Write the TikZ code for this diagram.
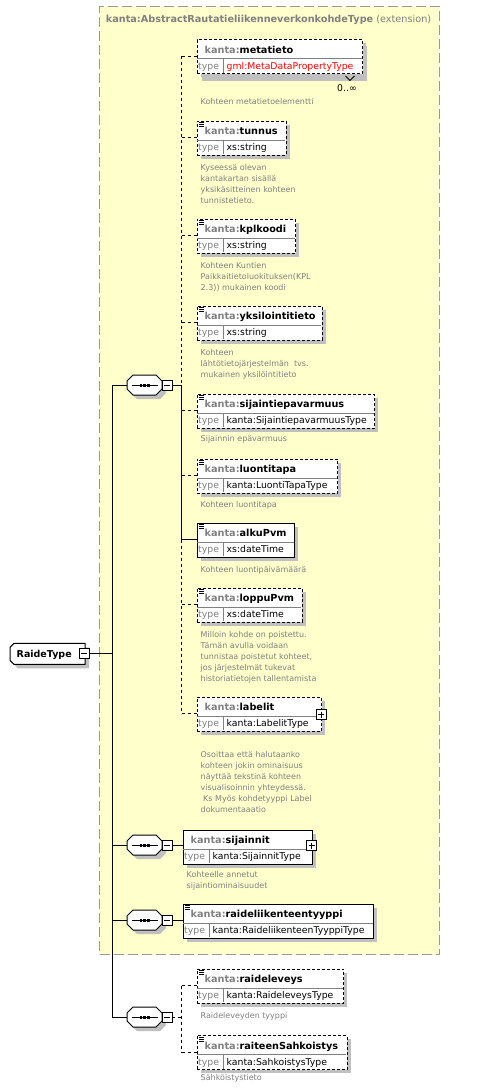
\documentclass[tikz,border=0pt]{standalone}
\usepackage{fontspec}
\setmainfont{DejaVu Sans}
\definecolor{kgray}{HTML}{808080}
\definecolor{yel}{HTML}{FFFFCC}
\definecolor{shadowc}{HTML}{C0C0C0}
\definecolor{extgray}{HTML}{999999}
\tikzset{
  ebox/.style={draw=black, fill=white, line width=1pt, inner sep=0pt},
  opt/.style={dash pattern=on 3pt off 2pt},
  conn/.style={line width=1pt, draw=black},
  optconn/.style={conn, dash pattern=on 3pt off 3pt},
  divline/.style={draw=kgray, line width=1pt},
  nametext/.style={anchor=base west, inner sep=0pt, font=\fontsize{9.7}{12}\selectfont\bfseries},
  typetext/.style={anchor=base west, inner sep=0pt, font=\fontsize{9.3}{11}\selectfont},
  desctext/.style={anchor=north west, inner sep=0pt, align=left, text=kgray, font=\fontsize{8}{11}\selectfont},
  extbox/.style={draw=extgray, fill=yel, line width=1pt, dash pattern=on 10pt off 4pt, inner sep=0pt},
  smallbox/.style={draw=black, fill=white, line width=1pt},
}
% element box: id, left, top, right, name, type, style
\newcommand\elem[7]{%
  \pgfmathsetmacro\elW{#4-#2}%
  \fill[shadowc] ({#2+4},{#3+4}) rectangle ({#4+4},{#3+38});
  \node[ebox,#7,anchor=north west,minimum width=\elW pt,minimum height=34pt] (#1) at (#2,#3) {};
  \draw[divline] ({#2+0.5},{#3+19.5}) -- ({#4-0.5},{#3+19.5});
  \draw[divline] ({#2+27},{#3+19.5}) -- ({#2+27},{#3+33.5});
  \node[nametext] (#1-n) at ({#2+8},{#3+14}) {\textcolor{kgray}{kanta:}#5};
  \node[typetext,text=kgray] (#1-l) at ({#2+1.5},{#3+30}) {type};
  \node[typetext] (#1-v) at ({#2+30},{#3+30}) {#6};
  \coordinate (#1-in) at ({#2},{#3+17});
}
\newcommand\docicon[2]{%
  \draw[line width=0.7pt] ({#1+2.5},{#2+2.3}) -- ({#1+7},{#2+2.3});
  \draw[line width=0.7pt] ({#1+2.5},{#2+4.1}) -- ({#1+7},{#2+4.1});
  \draw[line width=0.7pt] ({#1+2.5},{#2+5.9}) -- ({#1+7},{#2+5.9});
}
\newcommand\plusbox[2]{%
  \filldraw[smallbox] ({#1-5},{#2-5}) rectangle ({#1+5},{#2+5});
  \draw[line width=1pt] ({#1-3},{#2}) -- ({#1+3},{#2});
  \draw[line width=1pt] ({#1},{#2-3}) -- ({#1},{#2+3});
}
% sequence symbol: id, cx, cy
\newcommand\seqsym[3]{%
  \begin{scope}[shift={(#2,#3)}]
    \fill[shadowc] (-7.5,-6) -- (15.5,-6) -- (21.5,0) -- (21.5,8) -- (15.5,14) -- (-7.5,14) -- (-13.5,8) -- (-13.5,0) -- cycle;
    \filldraw[fill=white, draw=black, line width=1pt] (-11.5,-10) -- (11.5,-10) -- (17.5,-4) -- (17.5,4) -- (11.5,10) -- (-11.5,10) -- (-17.5,4) -- (-17.5,-4) -- cycle;
    \draw[line width=1pt] (-13,0) -- (13,0);
    \fill (-5,-1.5) rectangle (-2.6,1.5);
    \fill (-1.2,-1.5) rectangle (1.2,1.5);
    \fill (2.6,-1.5) rectangle (5,1.5);
    \filldraw[smallbox] (17.5,-5) rectangle (27.5,5);
    \draw[line width=1pt] (19.5,0) -- (25.5,0);
  \end{scope}
  \coordinate (#1) at (#2,#3);
  \coordinate (#1-in) at ({#2-17.5},{#3});
  \coordinate (#1-out) at ({#2+27.5},{#3});
}
\begin{document}
\begin{tikzpicture}[x=1pt,y=-1pt]
\useasboundingbox (0,0) rectangle (482,1090);
\fill[white] (0,0) rectangle (482,1090);
% extension frame
\node[extbox, anchor=north west, minimum width=340pt, minimum height=948pt] (ext) at (99,6) {};
\node[anchor=base west, inner sep=0pt, text=kgray, font=\fontsize{9.7}{12}\selectfont] (hdr) at (105.7,22.5) {\textbf{kanta:AbstractRautatieliikenneverkonkohdeType} (extension)};

% coordinates for spines
\coordinate (mainspine) at (112.5,0);
\coordinate (spine1) at (181.7,0);
\coordinate (spine4) at (181.7,0);

% RaideType complex type
\fill[shadowc] (18,647.3) -- (89,647.3) -- (89,668.3) -- (18,668.3) -- (14,664.3) -- (14,651.3) -- cycle;
\filldraw[fill=white, draw=black, line width=1pt] (14,643.3) -- (85,643.3) -- (85,664.3) -- (14,664.3) -- (10,660.3) -- (10,647.3) -- cycle;
\node[anchor=base west, inner sep=0pt, font=\fontsize{9.5}{12}\selectfont\bfseries] (raide) at (16.5,657.5) {RaideType};
\filldraw[smallbox] (79.3,648.3) rectangle (89.3,658.3);
\draw[line width=1pt] (81.3,653.3) -- (87.3,653.3);
\coordinate (raide-out) at (89.3,653.3);

% sequences
\seqsym{s1}{144.5}{385}
\seqsym{s2}{144.5}{845}
\seqsym{s3}{144.5}{920}
\seqsym{s4}{144.5}{1017}

% elements
\fill[shadowc] (201.5,46) rectangle (367,81);
\elem{metatieto}{196.5}{39}{362}{metatieto}{\textcolor{red}{gml:MetaDataPropertyType}}{opt}
\draw[line width=0.8pt] (345.5,76) -- (350,80.5) -- (354.5,76);
\node[typetext, anchor=base east] (mult) at (357,91) {0..∞};
\node[desctext] (metatieto-d) at (200.5,97) {\strut Kohteen metatietoelementti};

\elem{tunnus}{196.5}{120.5}{285.7}{tunnus}{xs:string}{opt}
\docicon{196.5}{120.5}
\node[desctext] (tunnus-d) at (200.5,162.6) {\strut Kyseessä olevan\\kantakartan sisällä\\yksikäsitteinen kohteen\\tunnistetieto.};

\elem{kplkoodi}{196.5}{218.5}{295}{kplkoodi}{xs:string}{opt}
\docicon{196.5}{218.5}
\node[desctext] (kplkoodi-d) at (200.5,261) {\strut Kohteen Kuntien\\Paikkaitietoluokituksen(KPL\\2.3)) mukainen koodi};

\elem{yksilointitieto}{196.5}{305.5}{321.7}{yksilointitieto}{xs:string}{opt}
\docicon{196.5}{305.5}
\node[desctext] (yksilointitieto-d) at (200.5,348) {\strut Kohteen\\lähtötietojärjestelmän\ \ tvs.\\mukainen yksilöintitieto};

\elem{sijaintiepavarmuus}{196.5}{393.5}{374}{sijaintiepavarmuus}{kanta:SijaintiepavarmuusType}{opt}
\docicon{196.5}{393.5}
\node[desctext] (sijaintiepavarmuus-d) at (200.5,433.6) {\strut Sijainnin epävarmuus};

\elem{luontitapa}{196.5}{458.5}{337.3}{luontitapa}{kanta:LuontiTapaType}{opt}
\docicon{196.5}{458.5}
\node[desctext] (luontitapa-d) at (200.5,499.6) {\strut Kohteen luontitapa};

\elem{alkuPvm}{196.5}{522.5}{294}{alkuPvm}{xs:dateTime}{}
\docicon{196.5}{522.5}
\node[desctext] (alkuPvm-d) at (200.5,564.3) {\strut Kohteen luontipäivämäärä};

\elem{loppuPvm}{196.5}{587.5}{301.7}{loppuPvm}{xs:dateTime}{opt}
\docicon{196.5}{587.5}
\node[desctext] (loppuPvm-d) at (200.5,629.3) {\strut Milloin kohde on poistettu.\\Tämän avulla voidaan\\tunnistaa poistetut kohteet,\\jos järjestelmät tukevat\\historiatietojen tallentamista};

\elem{labelit}{196.5}{696.5}{321}{labelit}{kanta:LabelitType}{opt}
\plusbox{321}{714.5}
\node[desctext] (labelit-d) at (200.5,749.6) {\strut Osoittaa että halutaanko\\kohteen jokin ominaisuus\\näyttää tekstinä kohteen\\visualisoinnin yhteydessä.\\\hspace*{2.5pt}Ks Myös kohdetyyppi Label\\dokumentaaatio};

\elem{sijainnit}{182.5}{829.5}{311.7}{sijainnit}{kanta:SijainnitType}{}
\plusbox{311.7}{845.5}
\node[desctext] (sijainnit-d) at (186.5,869.6) {\strut Kohteelle annetut\\sijaintiominaisuudet};

\elem{raideliikenteentyyppi}{182.5}{903.5}{373.3}{raideliikenteentyyppi}{kanta:RaideliikenteenTyyppiType}{}
\docicon{182.5}{903.5}

\elem{raideleveys}{196.5}{968.5}{343.3}{raideleveys}{kanta:RaideleveysType}{opt}
\docicon{196.5}{968.5}
\node[desctext] (raideleveys-d) at (200.5,1011) {\strut Raideleveyden tyyppi};

\elem{raiteenSahkoistys}{196.5}{1035}{346.7}{raiteenSahkoistys}{kanta:SahkoistysType}{opt}
\docicon{196.5}{1035}
\node[desctext] (raiteenSahkoistys-d) at (200.5,1072.6) {\strut Sähköistystieto};

% connectors: main spine
\draw[conn] (s1-in) -- (s1-in -| mainspine) -- (s4-in -| mainspine) -- (s4-in);
\draw[conn] (raide-out) -- (raide-out -| mainspine);
\draw[conn] (s2-in -| mainspine) -- (s2-in);
\draw[conn] (s3-in -| mainspine) -- (s3-in);

% sequence 1
\draw[conn] (s1-out) -- (s1-out -| spine1);
\draw[optconn] (metatieto-in -| spine1) -- (s1-out -| spine1);
\draw[conn] (s1-out -| spine1) -- (alkuPvm-in -| spine1);
\draw[optconn] (alkuPvm-in -| spine1) -- (labelit-in -| spine1);
\draw[optconn] (metatieto-in -| spine1) -- (metatieto-in);
\draw[optconn] (tunnus-in -| spine1) -- (tunnus-in);
\draw[optconn] (kplkoodi-in -| spine1) -- (kplkoodi-in);
\draw[optconn] (yksilointitieto-in -| spine1) -- (yksilointitieto-in);
\draw[optconn] (sijaintiepavarmuus-in -| spine1) -- (sijaintiepavarmuus-in);
\draw[optconn] (luontitapa-in -| spine1) -- (luontitapa-in);
\draw[conn] (alkuPvm-in -| spine1) -- (alkuPvm-in);
\draw[optconn] (loppuPvm-in -| spine1) -- (loppuPvm-in);
\draw[optconn] (labelit-in -| spine1) -- (labelit-in);

% sequence 2, 3
\draw[conn] (s2-out) -- (s2-out -| sijainnit.west);
\draw[conn] (s3-out) -- (s3-out -| raideliikenteentyyppi.west);

% sequence 4
\draw[optconn] (s4-out) -- (s4-out -| spine4);
\draw[optconn] (raideleveys-in -| spine4) -- (raiteenSahkoistys-in -| spine4);
\draw[optconn] (raideleveys-in -| spine4) -- (raideleveys-in);
\draw[optconn] (raiteenSahkoistys-in -| spine4) -- (raiteenSahkoistys-in);
\end{tikzpicture}
\end{document}
